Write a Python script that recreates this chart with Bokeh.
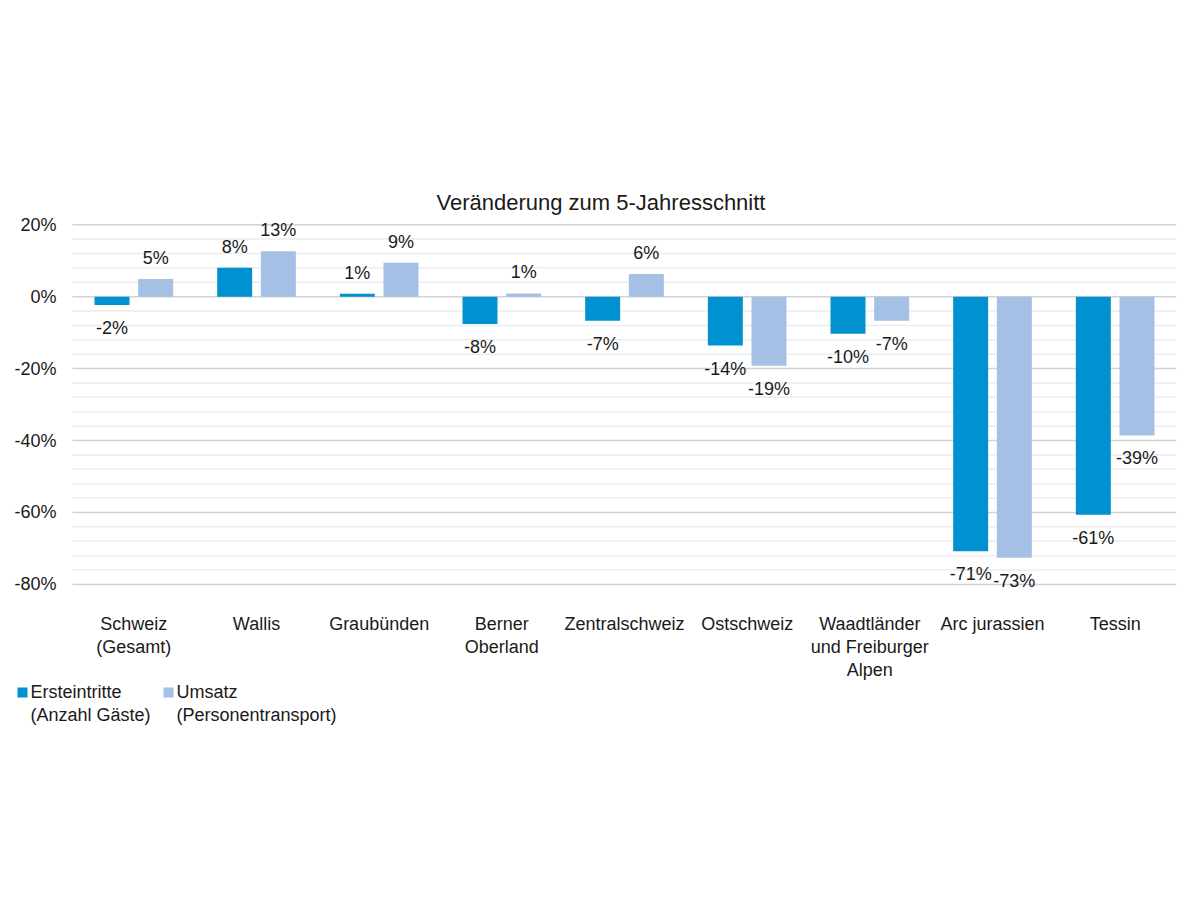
from bokeh.plotting import figure
from bokeh.models import ColumnDataSource, Range1d
from bokeh.embed import file_html
from bokeh.resources import INLINE
from bokeh.core.properties import value

title = "Veränderung zum 5-Jahresschnitt"
categories = ["Schweiz\n(Gesamt)", "Wallis", "Graubünden", "Berner\nOberland",
              "Zentralschweiz", "Ostschweiz", "Waadtländer\nund Freiburger\nAlpen",
              "Arc jurassien", "Tessin"]
ersteintritte = [-2.3, 8.0, 0.8, -7.6, -6.7, -13.6, -10.3, -70.8, -60.6]
umsatz = [4.9, 12.6, 9.4, 0.9, 6.3, -19.2, -6.7, -72.6, -38.6]
series_names = ["Ersteintritte\n(Anzahl Gäste)", "Umsatz\n(Personentransport)"]
colors = ["#0091D0", "#A4C0E4"]
y_ticks = [-80, -60, -40, -20, 0, 20]
y_minor_ticks = [t for t in range(-80, 21, 4) if t not in y_ticks]

FONT = "Liberation Sans"
TXT = "#1a1a1a"
FS = "18px"

# canvas layout (pixels)
W, H = 1192, 892
BL, BR, BT, BB = 10, 16, 217, 157      # borders around the frame
AXIS_LEFT = 72                          # where the category axis starts
n = len(categories)
frame_w = W - BL - BR
px_per_x = (frame_w - (AXIS_LEFT - BL)) / n
x0 = -(AXIS_LEFT - BL) / px_per_x
y_top, y_bot = 22, -122
px_per_y = (H - BT - BB) / (y_top - y_bot)

p = figure(width=W, height=H, output_backend="svg", toolbar_location=None,
           x_range=Range1d(x0, n), y_range=Range1d(y_bot, y_top),
           x_axis_location=None, y_axis_location=None,
           min_border_left=BL, min_border_right=BR, min_border_top=BT,
           min_border_bottom=BB)
p.outline_line_color = None
p.background_fill_color = "white"
p.border_fill_color = "white"
p.xgrid.visible = False
p.ygrid.visible = False

# title
p.title.text = title
p.title.align = "left"
p.title.offset = 426
p.title.standoff = 5
p.title.text_font = FONT
p.title.text_font_size = "22px"
p.title.text_font_style = "normal"
p.title.text_color = TXT

# grid lines (y axis)
p.segment(x0=[0] * len(y_minor_ticks), x1=[n] * len(y_minor_ticks),
          y0=y_minor_ticks, y1=y_minor_ticks, line_color="#ECECEC", line_width=1.5)
p.segment(x0=[0] * len(y_ticks), x1=[n] * len(y_ticks),
          y0=y_ticks, y1=y_ticks, line_color="#D3D3D3", line_width=1.5)

# y tick labels
p.text(x=[0] * len(y_ticks), y=y_ticks, text=[f"{t}%" for t in y_ticks],
       x_offset=-16, text_align="right", text_baseline="middle",
       text_font=value(FONT), text_font_size=FS, text_color=TXT)

# category labels
centers = [i + 0.5 for i in range(n)]
p.text(x=centers, y=[y_ticks[0]] * n, text=categories, y_offset=30,
       text_align="center", text_baseline="top", text_line_height=1.15,
       text_font=value(FONT), text_font_size=FS, text_color=TXT)

# bars + value labels
off = 0.178
bw = 0.285
for vals, col, sgn in [(ersteintritte, colors[0], -1), (umsatz, colors[1], 1)]:
    xs = [c + sgn * off for c in centers]
    src = ColumnDataSource(dict(
        x=xs, top=vals,
        lab=[f"{round(v):.0f}%" for v in vals],
        yoff=[-21 if v >= 0 else 23 for v in vals]))
    p.vbar(x="x", top="top", bottom=0, width=bw, source=src, fill_color=col,
           line_color=None)
    p.text(x="x", y="top", text="lab", y_offset="yoff", source=src,
           text_align="center", text_baseline="middle",
           text_font=value(FONT), text_font_size=FS, text_color=TXT)

# legend (below the category labels, left aligned with the page)
leg_sq_px = [22, 168]       # square centres, pixels from canvas left
leg_tx_px = [30, 176]       # text starts
leg_y_px = 108              # pixels below the -80% line (square centre)
for sx, tx, name, col in zip(leg_sq_px, leg_tx_px, series_names, colors):
    xd = x0 + (sx - BL) / px_per_x
    yd = y_ticks[0] - leg_y_px / px_per_y
    p.rect(x=[xd], y=[yd], width=10, height=10, width_units="screen",
           height_units="screen", fill_color=col, line_color=None)
    p.text(x=[x0 + (tx - BL) / px_per_x], y=[yd], text=[name], y_offset=-10,
           text_align="left", text_baseline="top", text_line_height=1.15,
           text_font=value(FONT), text_font_size=FS, text_color=TXT)

open("out.html", "w").write(file_html(p, INLINE))
